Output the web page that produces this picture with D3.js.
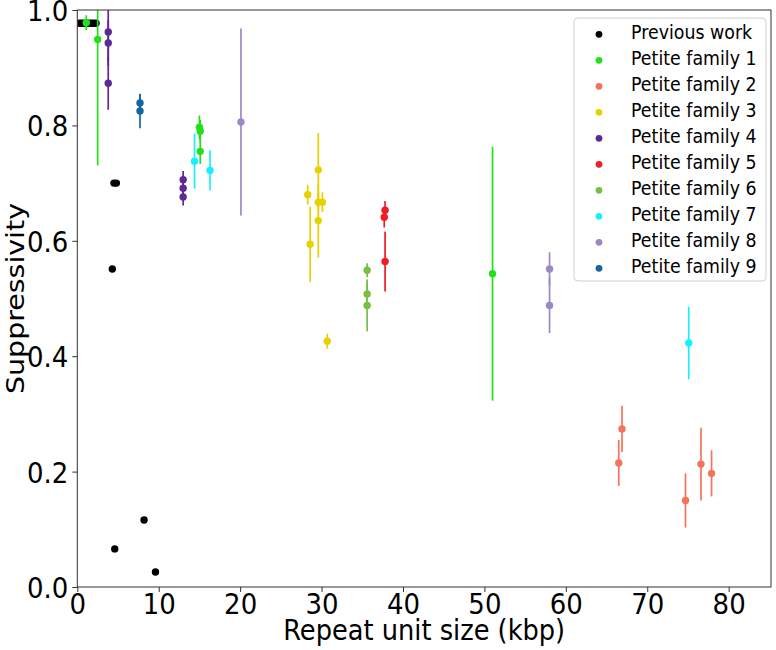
<!DOCTYPE html>
<html><head><meta charset="utf-8">
<script src="https://cdn.jsdelivr.net/npm/d3@7"></script>
<style>body{margin:0;background:#fff}svg{display:block}</style>
</head><body>
<svg id="chart" width="776" height="650"></svg>
<script>
// ---- data ----
const seriesNames = ["Previous work","Petite family 1","Petite family 2","Petite family 3","Petite family 4",
  "Petite family 5","Petite family 6","Petite family 7","Petite family 8","Petite family 9"];
const seriesColors = ["#000000","#24e01c","#f4735c","#e5d200","#5c2a92","#ee1c25","#76c043","#19f0ff","#9d88c4","#13679e"];

const prevX = [0.2,0.5,0.8,1.1,1.4,1.7,2.0,2.3,4.5,4.8,4.3,4.6,8.2,9.6];
const prevY = [0.977,0.977,0.977,0.977,0.977,0.977,0.977,0.977,0.70,0.70,0.551,0.066,0.116,0.026];
const prevErr = [0,0,0,0,0,0,0,0,0,0,0,0,0,0];

const fam1X = [1.1,2.5,15.0,15.1,15.1,51.0];
const fam1Y = [0.978,0.949,0.797,0.790,0.755,0.543];
const fam1Err = [0.013,0.218,0.02,0.02,0.022,0.22];

const fam2X = [66.5,66.9,74.7,76.6,77.9];
const fam2Y = [0.215,0.274,0.150,0.213,0.197];
const fam2Err = [0.04,0.04,0.047,0.063,0.04];

const fam3X = [28.3,28.6,29.6,29.6,30.1,29.6,30.7];
const fam3Y = [0.680,0.594,0.723,0.667,0.667,0.635,0.426];
const fam3Err = [0.017,0.065,0.064,0.017,0.017,0.064,0.013];

const fam4X = [3.8,3.8,3.8,13.0,13.0,13.0];
const fam4Y = [0.962,0.943,0.873,0.706,0.691,0.676];
const fam4Err = [0.05,0.04,0.046,0.015,0.015,0.015];

const fam5X = [37.8,37.7,37.8];
const fam5Y = [0.653,0.641,0.564];
const fam5Err = [0.016,0.018,0.052];

const fam6X = [35.6,35.6,35.6];
const fam6Y = [0.549,0.508,0.488];
const fam6Err = [0.012,0.02,0.045];

const fam7X = [14.4,16.3,75.1];
const fam7Y = [0.738,0.722,0.423];
const fam7Err = [0.048,0.035,0.063];

const fam8X = [20.1,58.0,58.0];
const fam8Y = [0.806,0.551,0.488];
const fam8Err = [0.162,0.029,0.048];

const fam9X = [7.7,7.7];
const fam9Y = [0.839,0.825];
const fam9Err = [0.015,0.03];

const xTicks = [0,10,20,30,40,50,60,70,80];
const yTicks = [0.0,0.2,0.4,0.6,0.8,1.0];
const xLabel = "Repeat unit size (kbp)";
const yLabel = "Suppressivity";

const seriesX = [prevX,fam1X,fam2X,fam3X,fam4X,fam5X,fam6X,fam7X,fam8X,fam9X];
const seriesY = [prevY,fam1Y,fam2Y,fam3Y,fam4Y,fam5Y,fam6Y,fam7Y,fam8Y,fam9Y];
const seriesErr = [prevErr,fam1Err,fam2Err,fam3Err,fam4Err,fam5Err,fam6Err,fam7Err,fam8Err,fam9Err];

// ---- layout ----
const L = 77.3, R = 771, T = 10, B = 587;
const SY = 1.12; // vertical text stretch
const FONT = "DejaVu Sans, sans-serif";

const svg = d3.select("#chart");
const x = d3.scaleLinear().domain([0,85.2]).range([L,R]);
const y = d3.scaleLinear().domain([0,1]).range([B,T]);

svg.append("defs").append("clipPath").attr("id","clip")
  .append("rect").attr("x",L).attr("y",T).attr("width",R-L).attr("height",B-T);

// data
const plot = svg.append("g").attr("clip-path","url(#clip)");
seriesNames.forEach((name,i)=>{
  const g = plot.append("g");
  const pts = seriesX[i].map((v,j)=>({x:v,y:seriesY[i][j],e:seriesErr[i][j]}));
  g.selectAll("line").data(pts.filter(d=>d.e>0)).join("line")
    .attr("x1",d=>x(d.x)).attr("x2",d=>x(d.x))
    .attr("y1",d=>y(d.y-d.e)).attr("y2",d=>y(d.y+d.e))
    .attr("stroke",seriesColors[i]).attr("stroke-width",1.7);
  g.selectAll("circle").data(pts).join("circle")
    .attr("cx",d=>x(d.x)).attr("cy",d=>y(d.y)).attr("r",3.7)
    .attr("fill",seriesColors[i]);
});

// axes
const xa = svg.append("g").attr("transform",`translate(0,${B})`)
  .call(d3.axisBottom(x).tickValues(xTicks).tickFormat(d3.format("d")).tickSize(5).tickSizeOuter(0));
const ya = svg.append("g").attr("transform",`translate(${L},0)`)
  .call(d3.axisLeft(y).tickValues(yTicks).tickFormat(d3.format(".1f")).tickSize(5).tickSizeOuter(0));
[xa,ya].forEach(a=>{
  a.select(".domain").remove();
  a.selectAll(".tick line").attr("stroke","#333").attr("stroke-width",1);
  a.selectAll(".tick text").attr("font-family",FONT).attr("font-size",26).attr("fill","#000").attr("dy",null);
});
xa.selectAll(".tick text").attr("y",27/SY).attr("transform",`scale(1,${SY})`);
ya.selectAll(".tick text").attr("x",-9).attr("y",10.4/SY).attr("transform",`scale(1,${SY})`);

// frame
svg.append("rect").attr("x",L).attr("y",T).attr("width",R-L).attr("height",B-T)
  .attr("fill","none").attr("stroke","#333").attr("stroke-width",1);

// labels
svg.append("text").attr("transform",`translate(${(L+R)/2},640) scale(1,${SY})`)
  .attr("text-anchor","middle").attr("font-family",FONT).attr("font-size",25.7).text(xLabel);
svg.append("text").attr("transform",`translate(24,${(T+B)/2}) rotate(-90) scale(${SY},1)`)
  .attr("text-anchor","middle").attr("font-family",FONT).attr("font-size",25.4).text(yLabel);

// legend
const lg = svg.append("g");
lg.append("rect").attr("x",574).attr("y",18).attr("width",192).attr("height",263).attr("rx",4)
  .attr("fill","#fff").attr("fill-opacity",0.8).attr("stroke","#d0d0d0");
seriesNames.forEach((name,i)=>{
  const by = 39.3 + i*26;
  lg.append("circle").attr("cx",599).attr("cy",by-5).attr("r",3.4).attr("fill",seriesColors[i]);
  lg.append("text").attr("transform",`translate(631,${by}) scale(1,${SY})`)
    .attr("font-family",FONT).attr("font-size",17.4).text(name);
});
</script>
</body></html>
